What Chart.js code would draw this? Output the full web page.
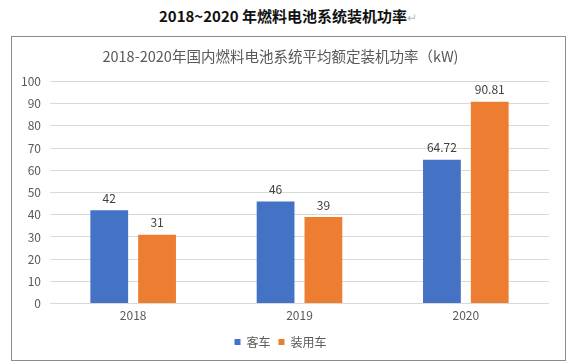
<!DOCTYPE html>
<html>
<head>
<meta charset="utf-8">
<script src="https://cdn.jsdelivr.net/npm/chart.js@4"></script>
<style>
    body { margin: 0; background: #fff; font-family: "Noto Sans CJK SC", sans-serif; }
    #heading {
        position: absolute; left: 0; top: 5px; width: 576px;
        text-align: center; font-size: 15px; font-weight: bold; color: #111;
    }
    #heading span { color: #bbb; font-weight: normal; font-size: 12px; }
    #box {
        position: absolute; left: 11px; top: 36px; width: 553px; height: 323px;
        border: 1px solid #8c8c8c;
    }
</style>
</head>
<body>
<div id="heading">2018~2020 年燃料电池系统装机功率<span>↵</span></div>
<div id="box"><canvas id="grafico" width="553" height="323"></canvas></div>
<script>
// dados do gráfico
const anos = ["2018", "2019", "2020"];
const serieNomes = ["客车", "装用车"];
const valoresKeche = [42, 46, 64.72];
const valoresZhuangyong = [31, 39, 90.81];
const ticksY = [0, 10, 20, 30, 40, 50, 60, 70, 80, 90, 100];

const fonte = "'Noto Sans CJK SC', sans-serif";

// desenha os valores em cima das barras
const rotulosBarras = {
    id: "rotulosBarras",
    afterDatasetsDraw(chart) {
        const ctx = chart.ctx;
        ctx.save();
        ctx.font = "12px " + fonte;
        ctx.fillStyle = "#404040";
        ctx.textAlign = "center";
        ctx.textBaseline = "bottom";
        chart.data.datasets.forEach((ds, i) => {
            chart.getDatasetMeta(i).data.forEach((bar, j) => {
                ctx.fillText(String(ds.data[j]), bar.x, bar.y - 6);
            });
        });
        ctx.restore();
    }
};

const ctx = document.getElementById("grafico").getContext("2d");
new Chart(ctx, {
    type: "bar",
    data: {
        labels: anos,
        datasets: [{
            label: serieNomes[0],
            data: valoresKeche,
            backgroundColor: "#4472C4"
        }, {
            label: serieNomes[1],
            data: valoresZhuangyong,
            backgroundColor: "#ED7D31"
        }]
    },
    options: {
        responsive: false,
        animation: false,
        categoryPercentage: 0.575,
        barPercentage: 0.79,
        layout: { padding: { left: 0, right: 16, top: 5, bottom: 2 } },
        plugins: {
            title: {
                display: true,
                text: "2018-2020年国内燃料电池系统平均额定装机功率（kW)",
                color: "#595959",
                font: { size: 14.5, family: fonte, weight: "normal" },
                padding: { top: 6, bottom: 16 }
            },
            legend: {
                position: "bottom",
                labels: {
                    boxWidth: 6, boxHeight: 6, padding: 8,
                    color: "#595959",
                    font: { size: 12, family: fonte }
                }
            },
            tooltip: { enabled: false }
        },
        scales: {
            x: {
                grid: { display: false, drawTicks: false },
                border: { display: false },
                ticks: { color: "#595959", font: { size: 12, family: fonte }, padding: 5 }
            },
            y: {
                min: 0, max: 100,
                afterBuildTicks: axis => { axis.ticks = ticksY.map(v => ({ value: v })); },
                grid: { color: "#D9D9D9", drawTicks: false },
                border: { display: false },
                ticks: { color: "#595959", font: { size: 12, family: fonte }, padding: 9 }
            }
        }
    },
    plugins: [rotulosBarras]
});
</script>
</body>
</html>
